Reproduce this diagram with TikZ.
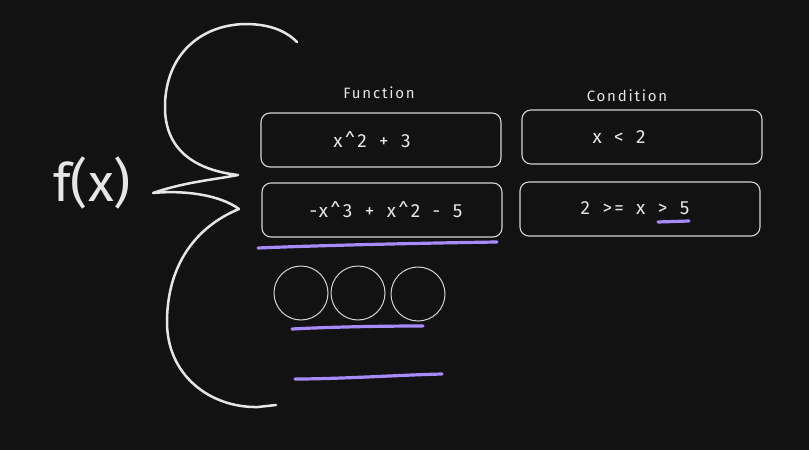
\documentclass[tikz,border=0pt]{standalone}
\usepackage{fontspec}
\setmainfont{Fira Sans}
\newfontfamily\hand[LetterSpace=12,WordSpace=1.7]{Fira Sans}
\definecolor{bg}{HTML}{121212}
\definecolor{ink}{HTML}{E6E6E6}
\definecolor{boxline}{HTML}{D4D4D4}
\definecolor{hl}{HTML}{A78BFA}
\begin{document}
\begin{tikzpicture}[x=1pt,y=-1pt,
  card/.style={draw=boxline,line width=1.1pt,rounded corners=9pt,minimum width=240pt,minimum height=54pt,inner sep=0pt},
  label/.style={text=ink,font=\hand\fontsize{15}{17}\selectfont,inner sep=0pt},
  expr/.style={text=ink,font=\hand\fontsize{19}{21}\selectfont,inner sep=0pt},
  dot/.style={draw=boxline,line width=1pt,circle,minimum size=54pt,inner sep=0pt},
  hlmark/.style={draw=hl,line width=3.2pt,line cap=round},
  bracestroke/.style={draw=ink,line width=2.5pt,line cap=round,line join=round}]
\fill[bg] (0,0) rectangle (809,450);
\useasboundingbox (0,0) rectangle (809,450);
% f(x)
\node[text=ink,font=\fontsize{53}{55}\selectfont,inner sep=0pt] (fx) at (92,183) {f(x)};
% brace
\draw[bracestroke] (297,42) .. controls (285,30) and (268,24) .. (245,24)
  .. controls (200,25) and (166,55) .. (165,105)
  .. controls (164,150) and (195,170) .. (238,175)
  .. controls (212,180) and (185,182) .. (153,193)
  .. controls (185,190) and (220,195) .. (239,209)
  .. controls (200,225) and (168,260) .. (167,320)
  .. controls (166,375) and (210,408) .. (258,407)
  -- (276,405);
% headers
\node[label] (fun) at (379,93) {Function};
\node[label] (cond) at (627,96) {Condition};
% cards
\node[card] (c1) at (381,140) {};
\node[card] (c2) at (382,210) {};
\node[card] (c3) at (642,137) {};
\node[card] (c4) at (640,209) {};
\node[expr] (e1) at (372,140) {x\^{}2 + 3};
\node[expr] (e2) at (386,210) {-x\^{}3 + x\^{}2 - 5};
\node[expr] (e3) at (619,137) {x < 2};
\node[expr] (e4) at (635,208) {2 >= x > 5};
% highlight marks
\coordinate (u1a) at (258,248); \coordinate (u1b) at (497,242);
\draw[hlmark] (u1a) .. controls (330,245) and (430,243) .. (u1b);
\coordinate (u2a) at (658,222); \coordinate (u2b) at (689,221);
\draw[hlmark] (u2a) -- (u2b);
% circles
\node[dot] (o1) at (301,293) {};
\node[dot] (o2) at (358,293) {};
\node[dot] (o3) at (418,294) {};
\coordinate (u3a) at (292,329); \coordinate (u3b) at (423,326);
\draw[hlmark] (u3a) .. controls (330,327) and (380,326) .. (u3b);
\coordinate (u4a) at (295,379); \coordinate (u4b) at (442,374);
\draw[hlmark] (u4a) .. controls (340,379) and (400,375) .. (u4b);
\end{tikzpicture}
\end{document}
